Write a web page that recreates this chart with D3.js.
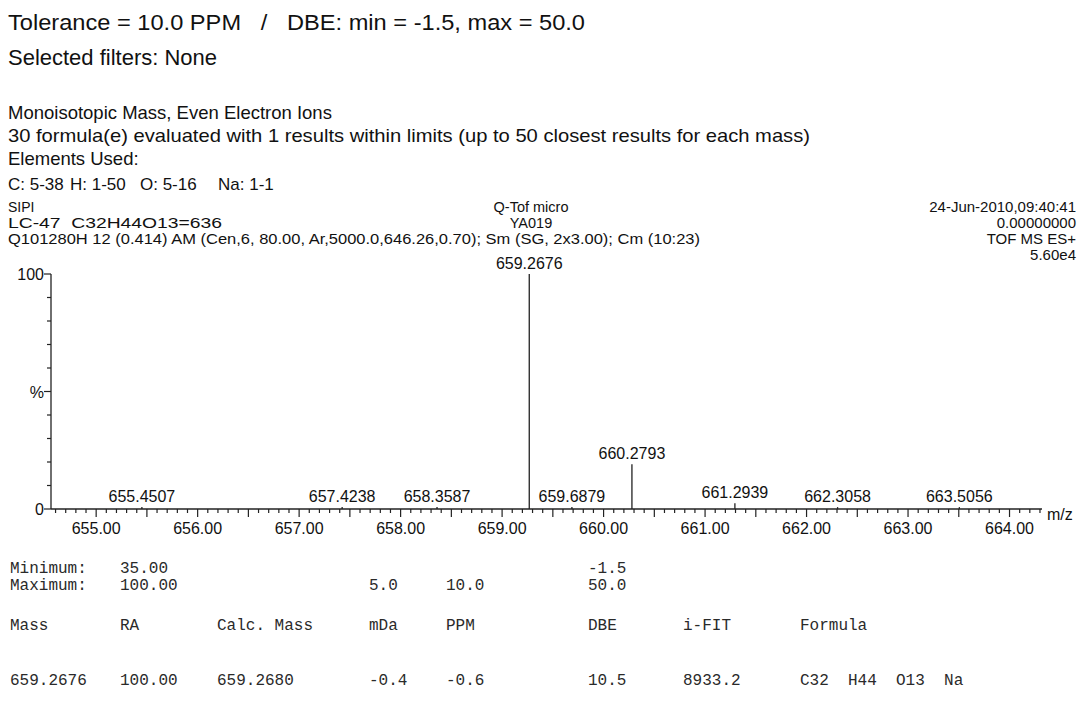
<!DOCTYPE html>
<html>
<head>
<meta charset="utf-8">
<script src="https://cdn.jsdelivr.net/npm/d3@7"></script>
<style>
  html, body { margin: 0; padding: 0; background: #fff; }
  svg { display: block; }
  text { white-space: pre; }
  .sans { font-family: "Liberation Sans", Arial, sans-serif; fill: #111; }
  .mono { font-family: "Liberation Mono", "Courier New", monospace; fill: #2a2a2a; }
</style>
</head>
<body>
<svg id="chart" width="1084" height="711"></svg>
<script>
// ---- report text ----
const titleLines = [
  "Tolerance = 10.0 PPM   /   DBE: min = -1.5, max = 50.0",
  "Selected filters: None"
];
const searchLines = [
  "Monoisotopic Mass, Even Electron Ions",
  "30 formula(e) evaluated with 1 results within limits (up to 50 closest results for each mass)",
  "Elements Used:"
];
const elements = ["C: 5-38", "H: 1-50", "O: 5-16", "Na: 1-1"];
const sampleLines = [
  "SIPI",
  "LC-47  C32H44O13=636",
  "Q101280H 12 (0.414) AM (Cen,6, 80.00, Ar,5000.0,646.26,0.70); Sm (SG, 2x3.00); Cm (10:23)"
];
const instrumentLines = ["Q-Tof micro", "YA019"];
const acquisitionLines = ["24-Jun-2010,09:40:41", "0.00000000", "TOF MS ES+", "5.60e4"];

// ---- spectrum ----
const mzDomain = [654.555, 664.32];
const mzTicks = [655, 656, 657, 658, 659, 660, 661, 662, 663, 664];
const peakMz = [655.4507, 657.4238, 658.3587, 659.2676, 659.6879, 660.2793, 661.2939, 662.3058, 663.5056];
const peakIntensity = [0.8, 0.8, 0.8, 100, 0.8, 19, 2.5, 0.8, 0.8];
const yTicks = [0, 10, 20, 30, 40, 50, 60, 70, 80, 90, 100];

// ---- elemental composition table ----
const limitLabels = ["Minimum:", "Maximum:"];
const limitMin = ["35.00", "", "", "", "-1.5"];
const limitMax = ["100.00", "", "5.0", "10.0", "50.0"];
const tableHeader = ["Mass", "RA", "Calc. Mass", "mDa", "PPM", "DBE", "i-FIT", "Formula"];
const tableRow = ["659.2676", "100.00", "659.2680", "-0.4", "-0.6", "10.5", "8933.2", "C32  H44  O13  Na"];

const svg = d3.select("#chart");
const ink = "#222";

// printed line widths of the report header
const titleWidths = [577, 209];
const searchWidths = [null, 802, null];
const sampleWidths = [null, 214, 692];

function fitWidth(sel, widths) {
  sel.each(function (d, i) {
    if (widths[i]) d3.select(this).attr("textLength", widths[i]).attr("lengthAdjust", "spacingAndGlyphs");
  });
}

svg.selectAll(".title").data(titleLines).join("text")
  .attr("class", "sans title").attr("x", 8).attr("y", (d, i) => 30 + i * 35)
  .attr("font-size", 22).call(fitWidth, titleWidths).text(d => d);

svg.selectAll(".search").data(searchLines).join("text")
  .attr("class", "sans search").attr("x", 8).attr("y", (d, i) => 119 + i * 23)
  .attr("font-size", 18.5).call(fitWidth, searchWidths).text(d => d);

const elemX = [8, 70, 140, 218];
svg.selectAll(".elem").data(elements).join("text")
  .attr("class", "sans elem").attr("x", (d, i) => elemX[i]).attr("y", 190)
  .attr("font-size", 17).text(d => d);

svg.selectAll(".sample").data(sampleLines).join("text")
  .attr("class", "sans sample").attr("x", 8).attr("y", (d, i) => 212 + i * 16)
  .attr("font-size", 14).call(fitWidth, sampleWidths).text(d => d);

svg.selectAll(".instr").data(instrumentLines).join("text")
  .attr("class", "sans instr").attr("x", 531).attr("y", (d, i) => 212 + i * 16)
  .attr("text-anchor", "middle").attr("font-size", 14.5).text(d => d);

svg.selectAll(".acq").data(acquisitionLines).join("text")
  .attr("class", "sans acq").attr("x", 1076).attr("y", (d, i) => 212 + i * 16)
  .attr("text-anchor", "end").attr("font-size", 15).text(d => d);

// spectrum plot
const x = d3.scaleLinear().domain(mzDomain).range([51, 1042]);
const y = d3.scaleLinear().domain([0, 100]).range([509, 274]);

const g = svg.append("g");

// x axis: minor ticks every 0.1, longer ticks every 0.5, labels at whole m/z
const minor = d3.range(Math.ceil(mzDomain[0] * 10), Math.floor(mzDomain[1] * 10) + 1).map(v => v / 10);
g.append("line").attr("x1", x.range()[0]).attr("x2", x.range()[1])
  .attr("y1", y(0)).attr("y2", y(0)).attr("stroke", ink).attr("stroke-width", 1.3);
g.selectAll(".xt").data(minor).join("line")
  .attr("x1", d => x(d)).attr("x2", d => x(d))
  .attr("y1", y(0)).attr("y2", d => y(0) + (Math.abs(d * 2 - Math.round(d * 2)) < 1e-6 ? 8 : 4))
  .attr("stroke", ink).attr("stroke-width", 1.2);
g.selectAll(".xl").data(mzTicks).join("text")
  .attr("class", "sans").attr("x", d => x(d)).attr("y", y(0) + 25)
  .attr("text-anchor", "middle").attr("font-size", 16).text(d => d.toFixed(2));
g.append("text").attr("class", "sans").attr("x", 1047).attr("y", y(0) + 11)
  .attr("font-size", 16).text("m/z");

// y axis
g.append("line").attr("x1", 51).attr("x2", 51).attr("y1", y(0)).attr("y2", y(100))
  .attr("stroke", ink).attr("stroke-width", 1.3);
g.selectAll(".yt").data(yTicks).join("line")
  .attr("x1", 51).attr("x2", d => 51 - (d % 50 === 0 ? 7 : 4))
  .attr("y1", d => y(d)).attr("y2", d => y(d)).attr("stroke", ink).attr("stroke-width", 1.2);
const yLabels = [[0, "0"], [50, "%"], [100, "100"]];
g.selectAll(".yl").data(yLabels).join("text")
  .attr("class", "sans").attr("x", 44).attr("y", d => y(d[0]) + 6)
  .attr("text-anchor", "end").attr("font-size", 16).text(d => d[1]);

// peaks (centroid sticks) and their m/z labels
g.selectAll(".peak").data(peakMz).join("line")
  .attr("x1", d => x(d)).attr("x2", d => x(d))
  .attr("y1", y(0)).attr("y2", (d, i) => y(peakIntensity[i]))
  .attr("stroke", ink).attr("stroke-width", 1.3);
g.selectAll(".pl").data(peakMz).join("text")
  .attr("class", "sans").attr("x", d => x(d)).attr("y", (d, i) => y(peakIntensity[i]) - 5)
  .attr("text-anchor", "middle").attr("font-size", 16).text(d => d.toFixed(4));

// composition table
const colX = [10, 120, 217, 369, 446, 588, 683, 800];
svg.selectAll(".lim").data(limitLabels).join("text")
  .attr("class", "mono").attr("x", 10).attr("y", (d, i) => 573 + i * 17)
  .attr("font-size", 16).text(d => d);
[limitMin, limitMax].forEach((row, r) => {
  svg.selectAll(".limv" + r).data(row).join("text")
    .attr("class", "mono").attr("x", (d, i) => colX[i === 0 ? 1 : i + 1])
    .attr("y", 573 + r * 17).attr("font-size", 16).text(d => d);
});
svg.selectAll(".th").data(tableHeader).join("text")
  .attr("class", "mono").attr("x", (d, i) => colX[i]).attr("y", 630)
  .attr("font-size", 16).text(d => d);
svg.selectAll(".td").data(tableRow).join("text")
  .attr("class", "mono").attr("x", (d, i) => colX[i]).attr("y", 685)
  .attr("font-size", 16).text(d => d);
</script>
</body>
</html>
